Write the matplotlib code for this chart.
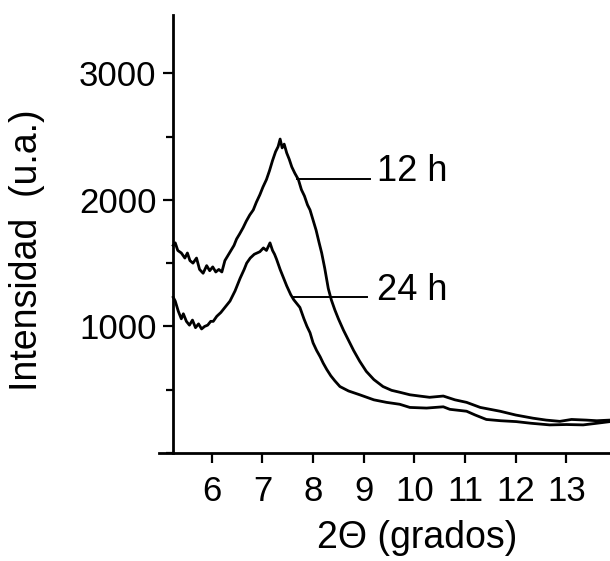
import matplotlib
matplotlib.use("Agg")
import matplotlib.pyplot as plt
from matplotlib.ticker import MultipleLocator

# difractogramas
x_12h = [5.24, 5.28, 5.33, 5.40, 5.47, 5.52, 5.57, 5.63, 5.70, 5.76, 5.83, 5.90, 5.96, 6.02,
         6.08, 6.14, 6.20, 6.26, 6.32, 6.38, 6.44, 6.49, 6.55, 6.62, 6.68, 6.75, 6.82, 6.88,
         6.95, 7.01, 7.08, 7.14, 7.20, 7.26, 7.31, 7.35, 7.39, 7.43, 7.48, 7.53, 7.58, 7.64,
         7.71, 7.77, 7.83, 7.89, 7.94, 8.00, 8.06, 8.12, 8.17, 8.23, 8.30, 8.36, 8.43, 8.50,
         8.60, 8.70, 8.80, 8.92, 9.05, 9.20, 9.38, 9.55, 9.71, 9.91, 10.1, 10.3, 10.57, 10.8,
         11.03, 11.3, 11.69, 12.0, 12.34, 12.6, 12.87, 13.1, 13.39, 13.6, 13.86]
y_12h = [1640, 1660, 1600, 1580, 1540, 1580, 1520, 1500, 1540, 1450, 1420, 1480, 1440, 1470,
         1430, 1450, 1430, 1520, 1560, 1600, 1640, 1690, 1730, 1780, 1830, 1880, 1920, 1980,
         2040, 2100, 2160, 2230, 2310, 2380, 2420, 2480, 2410, 2440, 2370, 2320, 2260, 2210,
         2160, 2080, 2030, 1960, 1920, 1840, 1760, 1660, 1580, 1460, 1300, 1210, 1130, 1060,
         970, 890, 810, 725, 645, 580, 525, 495, 480, 460, 450, 440, 450, 420,
         400, 360, 330, 300, 275, 260, 250, 265, 260, 255, 260]

x_24h = [5.24, 5.28, 5.34, 5.40, 5.44, 5.50, 5.56, 5.62, 5.68, 5.74, 5.80, 5.86, 5.92, 5.98,
         6.03, 6.10, 6.18, 6.26, 6.36, 6.46, 6.56, 6.64, 6.69, 6.76, 6.84, 6.95, 7.02, 7.08,
         7.15, 7.20, 7.24, 7.28, 7.35, 7.42, 7.48, 7.56, 7.62, 7.68, 7.74, 7.82, 7.88, 7.94,
         8.00, 8.07, 8.14, 8.20, 8.27, 8.35, 8.43, 8.53, 8.70, 8.92, 9.2, 9.45, 9.71, 9.91,
         10.24, 10.57, 10.70, 11.03, 11.2, 11.42, 11.7, 12.01, 12.3, 12.67, 13.0, 13.33, 13.6, 13.86]
y_24h = [1230, 1200, 1120, 1060, 1100, 1040, 1010, 1050, 990, 1020, 980, 1000, 1010, 1040,
         1040, 1080, 1110, 1150, 1200, 1280, 1380, 1450, 1500, 1540, 1570, 1590, 1620, 1600,
         1660, 1600, 1570, 1530, 1450, 1380, 1320, 1250, 1210, 1180, 1150, 1060, 1000, 950,
         870, 810, 760, 710, 660, 610, 570, 525, 490, 460, 420, 400, 385, 360,
         355, 365, 345, 330, 300, 265, 255, 248, 235, 222, 225, 222, 235, 248]

series_labels = ["12 h", "24 h"]
leader_x = [(7.68, 9.12), (7.60, 9.06)]
leader_y = [2166, 1233]
label_x = 9.26
label_y = [2225, 1280]

x_ticks = [6, 7, 8, 9, 10, 11, 12, 13]
y_ticks = [1000, 2000, 3000]

plt.rcParams['font.family'] = ['Liberation Sans', 'DejaVu Sans']

fig = plt.figure(figsize=(6.1, 5.61), dpi=100)
ax = fig.add_axes([0.2607, 0.1925, 0.7393, 0.7808])

ax.plot(x_12h, y_12h, color='black', lw=2.0)
ax.plot(x_24h, y_24h, color='black', lw=2.0)

for i in range(2):
    ax.plot(leader_x[i], [leader_y[i], leader_y[i]], color='black', lw=1.4)
    ax.text(label_x, label_y[i], series_labels[i], fontsize=26, ha='left', va='center')

ax.set_xlim(4.96, 13.86)
ax.set_ylim(0, 3460)

ax.spines['top'].set_visible(False)
ax.spines['right'].set_visible(False)
ax.spines['left'].set_position(('data', 5.24))
ax.spines['left'].set_linewidth(2.0)
ax.spines['bottom'].set_linewidth(2.0)

ax.set_xticks(x_ticks)
ax.set_yticks(y_ticks)
ax.yaxis.set_minor_locator(MultipleLocator(500))
ax.tick_params(axis='both', which='major', direction='out', length=7, width=1.6, labelsize=25)
ax.tick_params(axis='y', which='minor', direction='out', length=5, width=1.6)
ax.tick_params(axis='x', pad=9)
ax.tick_params(axis='y', pad=5)

fig.text(417 / 610, 1 - 538 / 561, '2\u0398 (grados)', fontsize=27, ha='center', va='center')
fig.text(27 / 610, 1 - 250 / 561, 'Intensidad  (u.a.)', fontsize=27, ha='center', va='center',
         rotation=90)

fig.savefig('out.png', dpi=100)
